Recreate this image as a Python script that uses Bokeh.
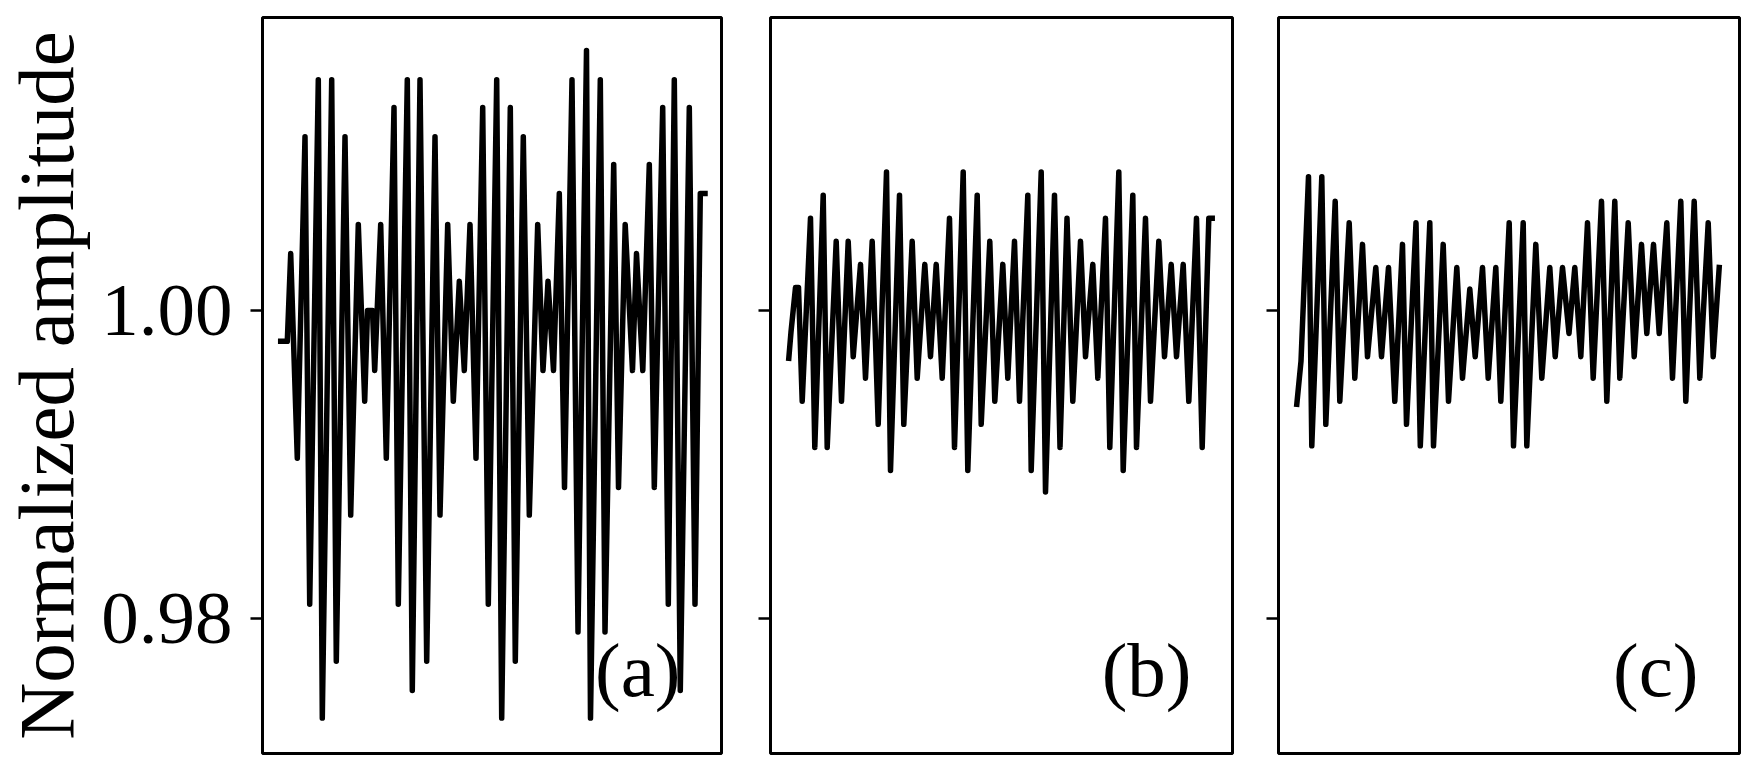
from bokeh.plotting import figure
from bokeh.layouts import row
from bokeh.models import Range1d, FixedTicker, PrintfTickFormatter, Label
from bokeh.embed import file_html
from bokeh.resources import INLINE

# ---- data (time in arbitrary units, amplitude normalized) ----
t_a = [0.0, 6.6, 10.0, 16.6, 24.3, 29.0, 37.6, 41.6, 51.0, 55.6, 64.3, 70.0, 77.6, 84.0,
       86.8, 91.8, 94.0, 100.0, 105.6, 113.3, 117.6, 126.6, 131.6, 139.3, 146.0, 154.3,
       159.3, 167.0, 172.6, 178.6, 183.6, 189.3, 195.3, 202.0, 207.6, 216.0, 221.0, 229.6,
       234.6, 242.6, 248.6, 257.0, 262.3, 267.3, 272.8, 278.6, 283.8, 291.3, 297.3, 305.8,
       309.8, 319.6, 324.3, 333.0, 337.8, 344.5, 351.8, 355.8, 362.1, 368.6, 373.6, 382.0,
       387.6, 393.6, 399.6, 408.6, 414.3, 419.6, 424.3]
amp_a = [0.9980, 0.9980, 1.0037, 0.9904, 1.0113, 0.9809, 1.0150, 0.9735, 1.0150, 0.9772,
         1.0113, 0.9867, 1.0056, 0.9941, 1.0000, 1.0000, 0.9961, 1.0056, 0.9904, 1.0132,
         0.9809, 1.0150, 0.9753, 1.0150, 0.9772, 1.0113, 0.9867, 1.0056, 0.9941, 1.0019,
         0.9961, 1.0056, 0.9904, 1.0132, 0.9809, 1.0150, 0.9735, 1.0132, 0.9772, 1.0113,
         0.9867, 1.0056, 0.9961, 1.0019, 0.9961, 1.0076, 0.9885, 1.0150, 0.9791, 1.0169,
         0.9735, 1.0150, 0.9791, 1.0095, 0.9885, 1.0056, 0.9961, 1.0037, 0.9961, 1.0095,
         0.9885, 1.0132, 0.9809, 1.0150, 0.9753, 1.0132, 0.9809, 1.0076, 1.0076]

t_b = [0.0, 2.2, 6.7, 9.7, 13.4, 21.7, 26.0, 34.4, 38.4, 47.4, 52.7, 59.4, 64.4, 71.7,
       76.7, 83.4, 89.4, 97.7, 101.7, 110.7, 115.0, 123.4, 128.4, 136.0, 141.7, 147.4,
       153.4, 160.7, 165.7, 174.4, 179.0, 188.4, 192.4, 201.0, 206.0, 214.0, 219.0, 225.7,
       230.7, 239.0, 242.4, 252.4, 256.7, 265.7, 271.2, 278.2, 284.0, 291.7, 296.7, 304.0,
       309.0, 316.7, 321.0, 330.0, 334.4, 344.0, 347.7, 356.7, 361.7, 370.0, 375.7, 382.4,
       387.7, 394.4, 400.0, 407.7, 413.4, 420.0, 423.4]
amp_b = [0.9969, 0.9986, 1.0015, 1.0015, 0.9941, 1.0060, 0.9911, 1.0075, 0.9911, 1.0045,
         0.9941, 1.0045, 0.9970, 1.0030, 0.9956, 1.0045, 0.9926, 1.0090, 0.9896, 1.0075,
         0.9926, 1.0045, 0.9956, 1.0030, 0.9970, 1.0030, 0.9956, 1.0060, 0.9911, 1.0090,
         0.9896, 1.0075, 0.9926, 1.0045, 0.9941, 1.0030, 0.9956, 1.0045, 0.9941, 1.0075,
         0.9896, 1.0090, 0.9882, 1.0075, 0.9911, 1.0060, 0.9941, 1.0045, 0.9970, 1.0030,
         0.9956, 1.0060, 0.9911, 1.0090, 0.9896, 1.0075, 0.9911, 1.0060, 0.9941, 1.0045,
         0.9970, 1.0030, 0.9970, 1.0030, 0.9941, 1.0060, 0.9911, 1.0060, 1.0060]

t_c = [0.0, 4.2, 11.7, 15.0, 25.0, 29.0, 38.4, 43.0, 52.4, 58.0, 65.7, 70.7, 79.0, 84.7,
       91.7, 98.0, 105.7, 109.7, 119.2, 123.5, 133.0, 136.7, 146.4, 151.7, 160.0, 165.7,
       173.0, 178.4, 185.7, 191.4, 199.0, 204.0, 212.4, 216.7, 226.4, 230.0, 239.0, 245.0,
       253.0, 258.4, 265.7, 272.2, 278.0, 284.0, 290.7, 296.4, 304.7, 310.0, 318.0, 323.0,
       331.4, 337.4, 344.7, 350.0, 356.7, 362.4, 370.0, 375.7, 384.0, 389.0, 397.4, 403.0,
       411.4, 416.4, 422.4]
amp_c = [0.9939, 0.9967, 1.0087, 0.9912, 1.0087, 0.9926, 1.0071, 0.9941, 1.0057, 0.9956,
         1.0043, 0.9970, 1.0028, 0.9970, 1.0028, 0.9941, 1.0043, 0.9926, 1.0057, 0.9912,
         1.0057, 0.9912, 1.0043, 0.9941, 1.0028, 0.9956, 1.0014, 0.9970, 1.0028, 0.9956,
         1.0028, 0.9941, 1.0057, 0.9912, 1.0057, 0.9912, 1.0043, 0.9956, 1.0028, 0.9970,
         1.0028, 0.9985, 1.0028, 0.9970, 1.0057, 0.9956, 1.0071, 0.9941, 1.0071, 0.9956,
         1.0057, 0.9970, 1.0043, 0.9985, 1.0043, 0.9985, 1.0057, 0.9956, 1.0071, 0.9941,
         1.0071, 0.9956, 1.0057, 0.9970, 1.0028]

y_ticks = [0.98, 1.00]
panel_tags = ["(a)", "(b)", "(c)"]
y_label = "Normalized amplitude"

FONT = "Liberation Serif"
Y0, Y1 = 0.9712, 1.01905
FRAME_H = 736


def make_panel(t, amp, x_start, x_end, frame_w, border_l, border_r, tag, first):
    p = figure(frame_width=frame_w, frame_height=FRAME_H,
               min_border_left=border_l, min_border_right=border_r,
               min_border_top=17, min_border_bottom=10,
               x_range=Range1d(x_start, x_end), y_range=Range1d(Y0, Y1),
               x_axis_location=None, output_backend="svg",
               toolbar_location=None, tools="")
    p.line(t, amp, line_color="black", line_width=5.5,
           line_join="round", line_cap="square")
    p.grid.visible = False
    p.outline_line_color = "black"
    p.outline_line_width = 3
    p.outline_line_alpha = 1.0
    ax = p.yaxis[0]
    ax.ticker = FixedTicker(ticks=y_ticks, minor_ticks=[])
    ax.formatter = PrintfTickFormatter(format="%.2f")
    ax.axis_line_color = None
    ax.major_tick_out = 12
    ax.major_tick_in = 0
    ax.major_tick_line_width = 2.5
    ax.major_tick_line_color = "black"
    ax.minor_tick_line_color = None
    px_per_x = frame_w / (x_end - x_start)
    if first:
        ax.major_label_text_font = FONT
        ax.major_label_text_font_size = "75px"
        ax.major_label_text_color = "black"
        ax.major_label_standoff = 18
        ax.axis_label = y_label
        ax.axis_label_text_font = FONT
        ax.axis_label_text_font_size = "79px"
        ax.axis_label_text_font_style = "normal"
        ax.axis_label_text_color = "black"
        ax.axis_label_standoff = 8
    else:
        ax.major_label_text_color = None
        ax.major_label_standoff = 0
    lab = Label(x=x_end - 41 / px_per_x, y=Y0 + 0.0054, text=tag, text_font=FONT,
                text_font_size="77px", text_color="black",
                text_align="right", text_baseline="alphabetic")
    p.add_layout(lab)
    return p


pa = make_panel(t_a, amp_a, -18.2, 440.8, 459, 261, 24, panel_tags[0], True)
pb = make_panel(t_b, amp_b, -18.3, 443.7, 462, 25, 21, panel_tags[1], False)
pc = make_panel(t_c, amp_c, -18.3, 442.7, 461, 25, 6, panel_tags[2], False)

layout = row(pa, pb, pc, spacing=0)
open("out.html", "w").write(file_html(layout, INLINE))
